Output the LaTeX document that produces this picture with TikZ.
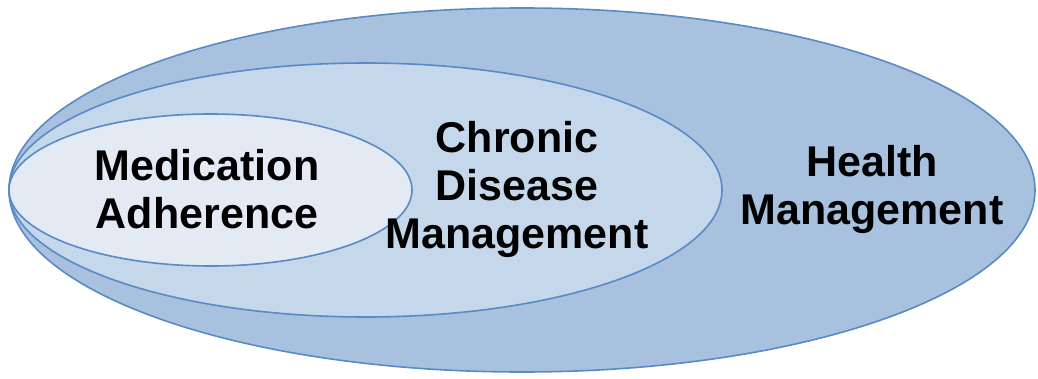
\documentclass[tikz,border=0pt]{standalone}
\usepackage{fontspec}
\setmainfont{Liberation Sans}
\usepackage{tikz}
\definecolor{rim}{HTML}{5A8AC6}
\definecolor{outerfill}{HTML}{A7C1DF}
\definecolor{midfill}{HTML}{C5D7EB}
\definecolor{innerfill}{HTML}{E3EAF4}
\tikzset{
    ring/.style={draw=rim,line width=1.6pt},
    lbl/.style={align=center,font=\fontsize{43}{48}\selectfont\bfseries}
}

\begin{document}
\begin{tikzpicture}[x=1pt,y=1pt]
\useasboundingbox (0,0) rectangle (1038,378);

\draw[ring,fill=outerfill] (522,188) ellipse (513 and 182);
\draw[ring,fill=midfill] (365.5,188) ellipse (356.5 and 127);
\draw[ring,fill=innerfill] (210.5,188) ellipse (201.5 and 76);

\node[lbl] (adh) at (207,189) {Medication\\Adherence};
\node[lbl] (cdm) at (517,189) {Chronic\\Disease\\Management};
\node[lbl] (hm) at (872,189) {Health\\Management};

\end{tikzpicture}
\end{document}
